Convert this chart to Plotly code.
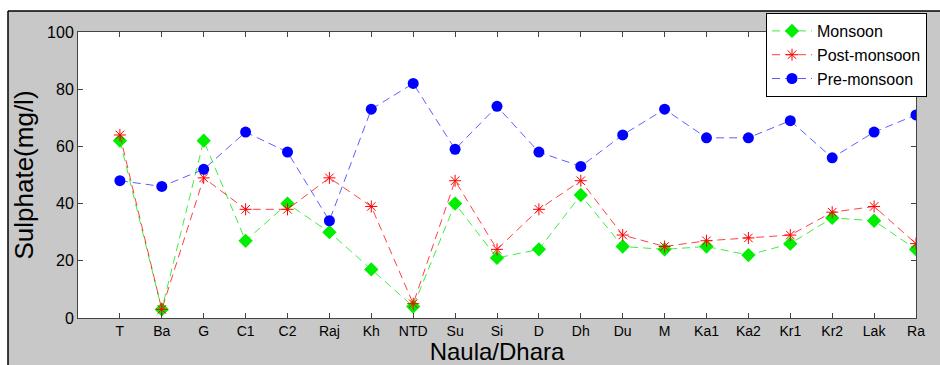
import plotly.graph_objects as go

categories = ["T", "Ba", "G", "C1", "C2", "Raj", "Kh", "NTD", "Su", "Si", "D", "Dh",
              "Du", "M", "Ka1", "Ka2", "Kr1", "Kr2", "Lak", "Ra"]
monsoon = [62, 3, 62, 27, 40, 30, 17, 4, 40, 21, 24, 43, 25, 24, 25, 22, 26, 35, 34, 24]
post_monsoon = [64, 3, 49, 38, 38, 49, 39, 5, 48, 24, 38, 48, 29, 25, 27, 28, 29, 37, 39, 26]
pre_monsoon = [48, 46, 52, 65, 58, 34, 73, 82, 59, 74, 58, 53, 64, 73, 63, 63, 69, 56, 65, 71]
y_ticks = [0, 20, 40, 60, 80, 100]

W, H = 940, 365
L, R, T, B = 78, 916, 32, 318

def px(x):
    return (x - L) / (R - L)

def py(y):
    return (B - y) / (B - T)

xpos = list(range(1, len(categories) + 1))

fig = go.Figure()
fig.add_trace(go.Scatter(
    x=xpos, y=monsoon, name="Monsoon", mode="lines+markers",
    line=dict(color="rgba(0,230,0,0.75)", width=1, dash="8px,5px"),
    marker=dict(symbol="diamond", size=11, color="#00ee00", line=dict(width=0)),
))
fig.add_trace(go.Scatter(
    x=xpos, y=post_monsoon, name="Post-monsoon", mode="lines+markers",
    line=dict(color="rgba(255,0,0,0.75)", width=1, dash="8px,5px"),
    marker=dict(symbol="asterisk-open", size=10, color="#ff0000", line=dict(width=1, color="#ff0000")),
))
fig.add_trace(go.Scatter(
    x=xpos, y=pre_monsoon, name="Pre-monsoon", mode="lines+markers",
    line=dict(color="rgba(40,40,255,0.75)", width=1, dash="8px,5px"),
    marker=dict(symbol="circle", size=11, color="#0000ff", line=dict(width=0)),
))

shapes = [
    # white strips above/left of the outer frame
    dict(type="rect", xref="paper", yref="paper", x0=px(-5), x1=px(W + 5), y0=py(11), y1=py(-5),
         fillcolor="white", line=dict(width=0), layer="above"),
    dict(type="rect", xref="paper", yref="paper", x0=px(-5), x1=px(8), y0=py(H + 5), y1=py(-5),
         fillcolor="white", line=dict(width=0), layer="above"),
    dict(type="line", xref="paper", yref="paper", x0=px(8), x1=px(W + 5), y0=py(11), y1=py(11),
         line=dict(color="black", width=1.5), layer="above"),
    dict(type="line", xref="paper", yref="paper", x0=px(8), x1=px(8), y0=py(11), y1=py(H + 5),
         line=dict(color="black", width=1.5), layer="above"),
]

fig.update_layout(
    width=W, height=H,
    margin=dict(l=L, r=W - R, t=T, b=H - B, autoexpand=False),
    paper_bgcolor="#c8c8c8",
    plot_bgcolor="white",
    font=dict(family="Liberation Sans, Arial, sans-serif", color="black"),
    shapes=shapes,
    showlegend=True,
    legend=dict(
        x=px(766), y=py(13), xanchor="left", yanchor="top",
        bgcolor="white", bordercolor="black", borderwidth=1,
        font=dict(size=16, family="Liberation Sans, Arial, sans-serif"),
        tracegroupgap=0, itemwidth=40,
    ),
    xaxis=dict(
        range=[0, 20], tickmode="array", tickvals=xpos, ticktext=categories,
        showgrid=False, zeroline=False, showline=True, linecolor="#444", linewidth=1,
        mirror="ticks", ticks="inside", ticklen=5, tickcolor="#444",
        tickfont=dict(size=14), automargin=False,
        title=dict(text="Naula/Dhara", font=dict(size=24), standoff=5),
    ),
    yaxis=dict(
        range=[0, 100], tickmode="array", tickvals=y_ticks,
        showgrid=False, zeroline=False, showline=True, linecolor="#444", linewidth=1,
        mirror="ticks", ticks="inside", ticklen=5, tickcolor="#444",
        tickfont=dict(size=16), automargin=False,
        title=dict(text="Sulphate(mg/l)", font=dict(size=26), standoff=5),
    ),
)

fig.write_html(
    "out.html",
    config={"displayModeBar": False},
    post_script="document.body.style.margin='0';document.body.style.overflow='hidden';",
)
